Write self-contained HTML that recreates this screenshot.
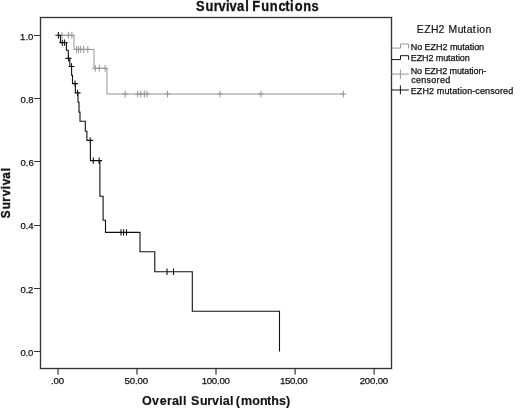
<!DOCTYPE html>
<html><head><meta charset="utf-8"><style>
html,body{margin:0;padding:0;background:#fff;width:520px;height:410px;overflow:hidden}
svg{display:block;font-family:"Liberation Sans",sans-serif;-webkit-font-smoothing:antialiased}
text{will-change:transform}
</style></head><body>
<svg width="520" height="410" viewBox="0 0 520 410">
<rect x="40.5" y="17.5" width="351" height="351" fill="none" stroke="#dcdcdc" stroke-width="3"/>
<rect x="40.5" y="17.5" width="351" height="351" fill="none" stroke="#333333" stroke-width="1"/>
<path d="M34,35.5H40.5" stroke="#333333" stroke-width="1"/>
<path d="M34,98.5H40.5" stroke="#333333" stroke-width="1"/>
<path d="M34,161.5H40.5" stroke="#333333" stroke-width="1"/>
<path d="M34,225.5H40.5" stroke="#333333" stroke-width="1"/>
<path d="M34,288.5H40.5" stroke="#333333" stroke-width="1"/>
<path d="M34,351.5H40.5" stroke="#333333" stroke-width="1"/>
<path d="M58.0,368.5V374.6" stroke="#333333" stroke-width="1.2"/>
<path d="M137.0,368.5V374.6" stroke="#333333" stroke-width="1.2"/>
<path d="M216.0,368.5V374.6" stroke="#333333" stroke-width="1.2"/>
<path d="M295.1,368.5V374.6" stroke="#333333" stroke-width="1.2"/>
<path d="M374.1,368.5V374.6" stroke="#333333" stroke-width="1.2"/>
<path d="M58.4,35.3H74.0V49.4H94.0V68.3H106.95V94.0H343.4M59.00,35.3H65.00M62.0,31.90V38.70M65.40,35.3H71.40M68.4,31.90V38.70M68.90,35.3H74.90M71.9,31.90V38.70M73.60,49.4H79.60M76.6,46.00V52.80M75.60,49.4H81.60M78.6,46.00V52.80M77.60,49.4H83.60M80.6,46.00V52.80M80.40,49.4H86.40M83.4,46.00V52.80M84.80,49.4H90.80M87.8,46.00V52.80M92.30,68.3H98.30M95.3,64.90V71.70M96.30,68.3H102.30M99.3,64.90V71.70M102.10,68.3H108.10M105.1,64.90V71.70M122.20,94.0H128.20M125.2,90.60V97.40M134.70,94.0H140.70M137.7,90.60V97.40M137.70,94.0H143.70M140.7,90.60V97.40M141.40,94.0H147.40M144.4,90.60V97.40M144.10,94.0H150.10M147.1,90.60V97.40M164.50,94.0H170.50M167.5,90.60V97.40M217.10,94.0H223.10M220.1,90.60V97.40M257.90,94.0H263.90M260.9,90.60V97.40M340.40,94.0H346.40M343.4,90.60V97.40" stroke="#959595" stroke-width="1.0" fill="none"/>
<path d="M58.4,35.3H60.4V42.6H66.4V50.3H68.3V58.4H69.8V66.5H71.6V75.2H72.5V83.6H75.4V92.9H78.0V102.2H79.0V112.1H80.0V121.3H85.3V131.2H86.9V140.4H90.4V160.6H99.9V196.3H103.1V220.3H105.5V232.4H140.0V251.8H154.8V271.7H192.3V311.3H279.5V351.6M55.40,35.3H61.40M58.4,32.10V38.50M59.30,42.6H65.30M62.3,39.40V45.80M61.50,42.6H67.50M64.5,39.40V45.80M65.50,58.4H71.50M68.5,55.20V61.60M68.50,66.5H74.50M71.5,63.30V69.70M72.00,83.6H78.00M75.0,80.40V86.80M74.60,92.9H80.60M77.6,89.70V96.10M87.20,140.4H93.20M90.2,137.20V143.60M90.30,160.6H96.30M93.3,157.40V163.80M96.10,160.6H102.10M99.1,157.40V163.80M118.00,232.4H124.00M121,229.20V235.60M120.60,232.4H126.60M123.6,229.20V235.60M123.50,232.4H129.50M126.5,229.20V235.60M164.00,271.7H170.00M167.0,268.50V274.90M170.50,271.7H176.50M173.5,268.50V274.90" stroke="#111111" stroke-width="1.1" fill="none"/>
<text transform="translate(0,220) rotate(-90) scale(0.95,1)" x="1.77 11.34 19.27 24.98 32.39 36.45 43.44 51.34" y="10.3" font-size="12.4" font-weight="bold" fill="#111111" stroke="#111111" stroke-width="0.35">Survival</text>
<path d="M391.5,48.1H400.5V44H408.6V48.5" stroke="#959595" stroke-width="1" fill="none"/>
<path d="M391.5,59.6H400.5V55.7H408.6V59.8" stroke="#111111" stroke-width="1" fill="none"/>
<path d="M391.5,74.1H408.8M400.4,69.3V78.8" stroke="#959595" stroke-width="1" fill="none"/>
<path d="M391.5,90.0H408.8M400.4,85.4V94.4" stroke="#111111" stroke-width="1" fill="none"/>
<text x="20.10" y="39.7" font-size="9.5" font-weight="normal" fill="#111111" stroke="#111111" stroke-width="0.25" textLength="13.20" lengthAdjust="spacing">1.0</text>
<text x="20.52" y="102.9" font-size="9.5" font-weight="normal" fill="#111111" stroke="#111111" stroke-width="0.25" textLength="13.14" lengthAdjust="spacing">0.8</text>
<text x="20.52" y="166.1" font-size="9.5" font-weight="normal" fill="#111111" stroke="#111111" stroke-width="0.25" textLength="13.18" lengthAdjust="spacing">0.6</text>
<text x="20.52" y="229.3" font-size="9.5" font-weight="normal" fill="#111111" stroke="#111111" stroke-width="0.25" textLength="13.13" lengthAdjust="spacing">0.4</text>
<text x="20.52" y="292.5" font-size="9.5" font-weight="normal" fill="#111111" stroke="#111111" stroke-width="0.25" textLength="12.90" lengthAdjust="spacing">0.2</text>
<text x="20.52" y="355.7" font-size="9.5" font-weight="normal" fill="#111111" stroke="#111111" stroke-width="0.25" textLength="12.77" lengthAdjust="spacing">0.0</text>
<text x="51.05" y="383.8" font-size="9.7" font-weight="normal" fill="#111111" stroke="#111111" stroke-width="0.25" textLength="13.03" lengthAdjust="spacing">.00</text>
<text x="124.50" y="383.8" font-size="9.7" font-weight="normal" fill="#111111" stroke="#111111" stroke-width="0.25" textLength="23.64" lengthAdjust="spacing">50.00</text>
<text x="201.68" y="383.8" font-size="9.7" font-weight="normal" fill="#111111" stroke="#111111" stroke-width="0.25" textLength="28.19" lengthAdjust="spacing">100.00</text>
<text x="280.03" y="383.8" font-size="9.7" font-weight="normal" fill="#111111" stroke="#111111" stroke-width="0.25" textLength="27.72" lengthAdjust="spacing">150.00</text>
<text x="359.70" y="383.8" font-size="9.7" font-weight="normal" fill="#111111" stroke="#111111" stroke-width="0.25" textLength="28.52" lengthAdjust="spacing">200.00</text>
<text transform="scale(0.92,1)" x="212.96 223.36 232.36 237.58 245.56 249.43 257.54 266.65 270.54 274.21 283.85 293.20 302.72 310.17 315.34 320.29 329.66 338.70" y="11.4" font-size="14" font-weight="bold" fill="#111111" stroke="#111111" stroke-width="0.3">Survival Functions</text>
<text transform="scale(0.95,1)" x="149.56 160.07 168.14 175.83 180.94 188.49 192.54 196.21 201.19 210.63 218.20 223.12 230.75 234.36 242.12 245.79 248.27 253.58 265.49 273.78 280.96 285.44 293.74 301.12" y="405.0" font-size="13.2" font-weight="bold" fill="#111111" stroke="#111111" stroke-width="0.15">Overall Survial (months)</text>
<text transform="scale(0.9,1)" x="463.07 471.45 479.03 487.16 493.61 498.28 508.51 514.79 518.75 525.29 529.66 532.55 539.38" y="32.8" font-size="11.6" font-weight="normal" fill="#111111" stroke="#111111" stroke-width="0.2">EZH2 Mutation</text>
<text x="410.71" y="50.2" font-size="9" font-weight="normal" fill="#111111" stroke="#111111" stroke-width="0.25" textLength="73.41" lengthAdjust="spacing">No EZH2 mutation</text>
<text x="410.71" y="61.2" font-size="9" font-weight="normal" fill="#111111" stroke="#111111" stroke-width="0.25" textLength="59.03" lengthAdjust="spacing">EZH2 mutation</text>
<text x="410.71" y="73.8" font-size="9" font-weight="normal" fill="#111111" stroke="#111111" stroke-width="0.25" textLength="75.61" lengthAdjust="spacing">No EZH2 mutation-</text>
<text x="411.14" y="83.1" font-size="9" font-weight="normal" fill="#111111" stroke="#111111" stroke-width="0.25" textLength="39.09" lengthAdjust="spacing">censored</text>
<text x="410.71" y="93.9" font-size="9" font-weight="normal" fill="#111111" stroke="#111111" stroke-width="0.25" textLength="102.48" lengthAdjust="spacing">EZH2 mutation-censored</text>
</svg>
</body></html>
